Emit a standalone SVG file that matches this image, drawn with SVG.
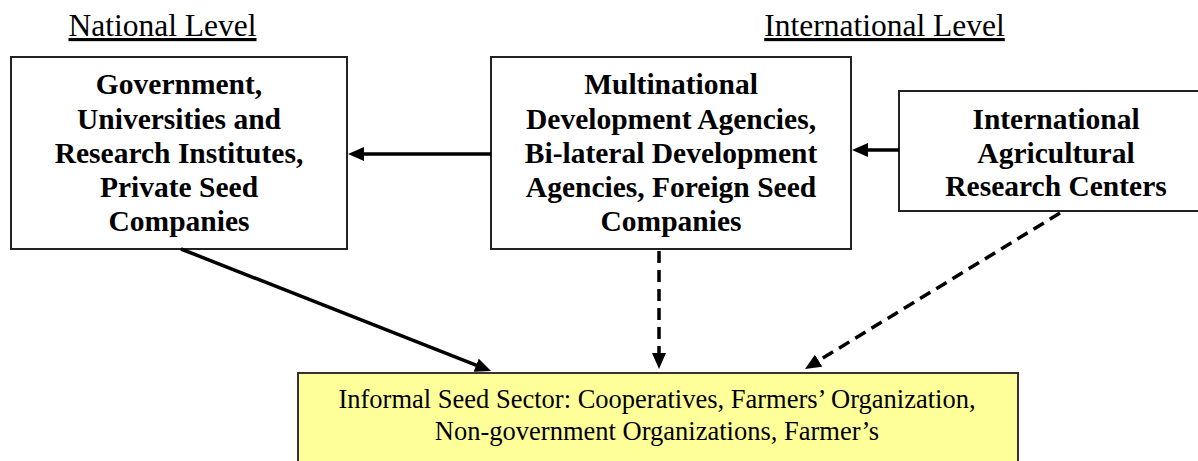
<svg xmlns="http://www.w3.org/2000/svg" width="1198" height="461" viewBox="0 0 1198 461">
<style>
text{font-family:"Liberation Serif","Times New Roman",serif;fill:#000;text-anchor:middle}
.title{font-size:31.5px;text-decoration:underline}
.b{font-size:29.5px;font-weight:bold}
.r{font-size:26.5px}
.box{fill:#fff;stroke:#222;stroke-width:2}
.ybox{fill:#ffff99;stroke:#333;stroke-width:2}
.c{fill:none;stroke:#000;stroke-width:3.5}
.d{stroke-dasharray:12 7}
</style>
<defs>
<marker id="ah" markerUnits="userSpaceOnUse" markerWidth="16" markerHeight="14" refX="8" refY="7" orient="auto" viewBox="0 0 16 14">
<path d="M0,0 L16,7 L0,14 z" fill="#000"/>
</marker>
</defs>
<text class="title" x="162.5" y="36">National Level</text>
<text class="title" x="884.5" y="36">International Level</text>
<g id="gov">
<rect class="box" x="11" y="57" width="336" height="192"/>
<text class="b" x="179" y="94">Government,</text>
<text class="b" x="179" y="128.5">Universities and</text>
<text class="b" x="179" y="163">Research Institutes,</text>
<text class="b" x="179" y="197">Private Seed</text>
<text class="b" x="179" y="231">Companies</text>
</g>
<g id="multi">
<rect class="box" x="491" y="57" width="360" height="192"/>
<text class="b" x="671" y="94">Multinational</text>
<text class="b" x="671" y="128.5">Development Agencies,</text>
<text class="b" x="671" y="163">Bi-lateral Development</text>
<text class="b" x="671" y="197">Agencies, Foreign Seed</text>
<text class="b" x="671" y="231">Companies</text>
</g>
<g id="iarc">
<rect class="box" x="899" y="91" width="314" height="120"/>
<text class="b" x="1056" y="129">International</text>
<text class="b" x="1056" y="163">Agricultural</text>
<text class="b" x="1056" y="196">Research Centers</text>
</g>
<g id="informal">
<rect class="ybox" x="298" y="373" width="720" height="100"/>
<text class="r" x="657" y="408">Informal Seed Sector: Cooperatives, Farmers’ Organization,</text>
<text class="r" x="657" y="440">Non-government Organizations, Farmer’s</text>
</g>
<g id="connectors">
<line class="c" x1="899" y1="150" x2="860" y2="150" marker-end="url(#ah)"/>
<line class="c" x1="491" y1="154" x2="356" y2="154" marker-end="url(#ah)"/>
<line class="c" x1="181" y1="249" x2="483.6" y2="368.1" marker-end="url(#ah)"/>
<line class="c d" x1="659" y1="251" x2="659" y2="361" marker-end="url(#ah)"/>
<line class="c d" x1="1060" y1="213" x2="811.8" y2="364.8" marker-end="url(#ah)"/>
</g>
</svg>
